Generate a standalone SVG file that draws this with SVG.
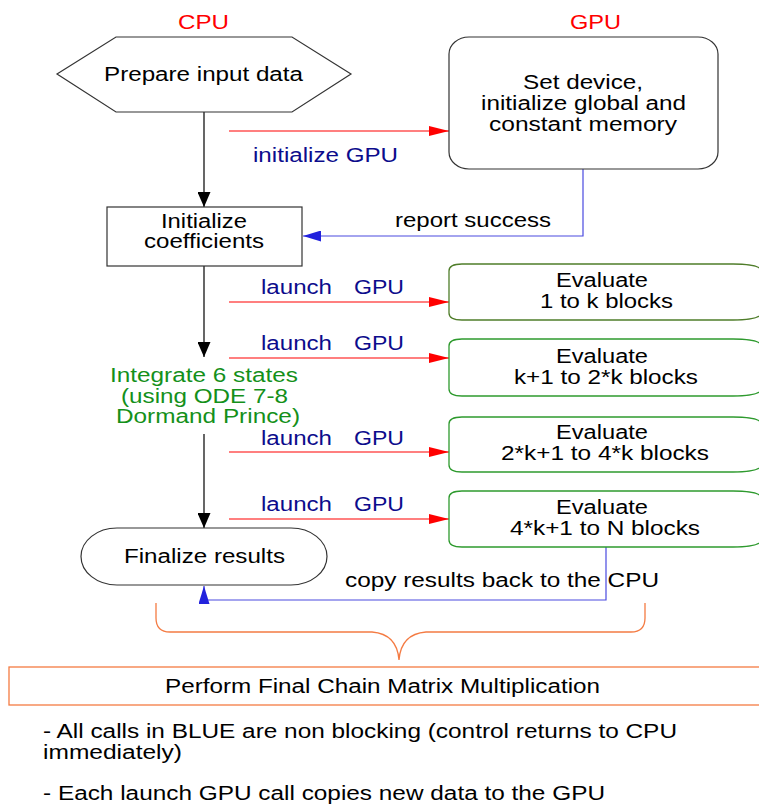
<svg xmlns="http://www.w3.org/2000/svg" width="759" height="804" viewBox="0 0 759 804">
<defs>
<style>
text{font-family:"Liberation Sans",Arial,sans-serif;font-size:19.5px;fill:#000}
.red{fill:#ff0000}
.navy{fill:#0c0c8c}
.green{fill:#14901a}
.shape{fill:#fff;stroke:#333;stroke-width:1.2}
.g1{fill:#fff;stroke:#4f7d2a;stroke-width:1.3}
.g2{fill:#fff;stroke:#2e9a2e;stroke-width:1.3}
.ra{fill:none;stroke:#ff0000;stroke-width:1.2;marker-end:url(#mr)}
.ka{fill:none;stroke:#000;stroke-width:1.2}
.ba{fill:none;stroke:#4a4ae0;stroke-width:1.2;marker-end:url(#mb)}
.br{fill:none;stroke:#f47b43;stroke-width:1.3}
</style>
<marker id="mr" markerUnits="userSpaceOnUse" markerWidth="20" markerHeight="10" refX="20" refY="5" orient="auto"><path d="M0,0 L20,5 L0,10 z" fill="#ff0000"/></marker>
<marker id="mk" markerUnits="userSpaceOnUse" markerWidth="15" markerHeight="13" refX="15" refY="6.5" orient="auto"><path d="M0,0 L15,6.5 L0,13 z" fill="#000"/></marker>
<marker id="mb" markerUnits="userSpaceOnUse" markerWidth="18" markerHeight="11" refX="18" refY="5.5" orient="auto"><path d="M0,0 L18,5.5 L0,11 z" fill="#2222dd"/></marker>
</defs>
<rect width="759" height="804" fill="#fff"/>

<text class="red" x="178" y="29" textLength="51" lengthAdjust="spacingAndGlyphs">CPU</text>
<text class="red" x="570" y="29" textLength="51" lengthAdjust="spacingAndGlyphs">GPU</text>

<g id="connectors">
<path class="ka" d="M204,112 L204,207" marker-end="url(#mk)"/>
<path class="ka" d="M204,266 L204,357" marker-end="url(#mk)"/>
<path class="ka" d="M204,434 L204,528" marker-end="url(#mk)"/>
<path class="ra" d="M229,131 L449,131"/>
<path class="ra" d="M229,302 L449,302"/>
<path class="ra" d="M229,358 L449,358"/>
<path class="ra" d="M229,452 L449,452"/>
<path class="ra" d="M229,519 L449,519"/>
<path class="ba" d="M583,169 L583,236 L303,236"/>
<path class="ba" d="M606,547 L606,600 L204,600 L204,586"/>
<text class="navy" x="253" y="162" textLength="145" lengthAdjust="spacingAndGlyphs">initialize GPU</text>
<text x="395" y="227" textLength="156" lengthAdjust="spacingAndGlyphs">report success</text>
<text class="navy" x="261" y="294" textLength="71" lengthAdjust="spacingAndGlyphs">launch</text>
<text class="navy" x="354" y="294" textLength="50" lengthAdjust="spacingAndGlyphs">GPU</text>
<text class="navy" x="261" y="350" textLength="71" lengthAdjust="spacingAndGlyphs">launch</text>
<text class="navy" x="354" y="350" textLength="50" lengthAdjust="spacingAndGlyphs">GPU</text>
<text class="navy" x="261" y="445" textLength="71" lengthAdjust="spacingAndGlyphs">launch</text>
<text class="navy" x="354" y="445" textLength="50" lengthAdjust="spacingAndGlyphs">GPU</text>
<text class="navy" x="261" y="511" textLength="71" lengthAdjust="spacingAndGlyphs">launch</text>
<text class="navy" x="354" y="511" textLength="50" lengthAdjust="spacingAndGlyphs">GPU</text>
<text x="345" y="587" textLength="314" lengthAdjust="spacingAndGlyphs">copy results back to the CPU</text>
</g>

<g id="prepare">
<polygon class="shape" points="57,74 116,37 292,37 351,74 292,112 116,112"/>
<text x="104" y="81" textLength="199" lengthAdjust="spacingAndGlyphs">Prepare input data</text>
</g>

<g id="gpu-init">
<rect class="shape" x="449" y="37" width="269" height="132" rx="20" ry="17"/>
<text x="523" y="89" textLength="120" lengthAdjust="spacingAndGlyphs">Set device,</text>
<text x="481" y="110" textLength="205" lengthAdjust="spacingAndGlyphs">initialize global and</text>
<text x="489" y="131" textLength="188" lengthAdjust="spacingAndGlyphs">constant memory</text>
</g>

<g id="init-coeff">
<rect class="shape" x="107" y="207" width="195" height="59"/>
<text x="161" y="228" textLength="86" lengthAdjust="spacingAndGlyphs">Initialize</text>
<text x="144" y="248" textLength="120" lengthAdjust="spacingAndGlyphs">coefficients</text>
</g>

<g id="eval1">
<path class="g1" d="M462,264 L733,264 Q762,264 762,272 L762,312 Q762,320 733,320 L462,320 Q449,320 449,313 L449,271 Q449,264 462,264 Z"/>
<text x="556" y="287" textLength="92" lengthAdjust="spacingAndGlyphs">Evaluate</text>
<text x="540" y="308" textLength="133" lengthAdjust="spacingAndGlyphs">1 to k blocks</text>
</g>

<g id="eval2">
<path class="g2" d="M462,339 L733,339 Q762,339 762,347 L762,388 Q762,396 733,396 L462,396 Q449,396 449,389 L449,346 Q449,339 462,339 Z"/>
<text x="556" y="363" textLength="92" lengthAdjust="spacingAndGlyphs">Evaluate</text>
<text x="514" y="384" textLength="184" lengthAdjust="spacingAndGlyphs">k+1 to 2*k blocks</text>
</g>

<g id="integrate">
<text class="green" x="110" y="382" textLength="188" lengthAdjust="spacingAndGlyphs">Integrate 6 states</text>
<text class="green" x="121" y="403" textLength="167" lengthAdjust="spacingAndGlyphs">(using ODE 7-8</text>
<text class="green" x="116" y="423" textLength="184" lengthAdjust="spacingAndGlyphs">Dormand Prince)</text>
</g>

<g id="eval3">
<path class="g2" d="M462,417 L733,417 Q762,417 762,425 L762,464 Q762,472 733,472 L462,472 Q449,472 449,465 L449,424 Q449,417 462,417 Z"/>
<text x="556" y="439" textLength="92" lengthAdjust="spacingAndGlyphs">Evaluate</text>
<text x="501" y="460" textLength="208" lengthAdjust="spacingAndGlyphs">2*k+1 to 4*k blocks</text>
</g>

<g id="eval4">
<path class="g2" d="M462,491 L733,491 Q762,491 762,499 L762,539 Q762,547 733,547 L462,547 Q449,547 449,540 L449,498 Q449,491 462,491 Z"/>
<text x="556" y="514" textLength="92" lengthAdjust="spacingAndGlyphs">Evaluate</text>
<text x="510" y="535" textLength="190" lengthAdjust="spacingAndGlyphs">4*k+1 to N blocks</text>
</g>

<g id="finalize">
<rect class="shape" x="81" y="528" width="246" height="57" rx="36" ry="28.5"/>
<text x="124" y="563" textLength="161" lengthAdjust="spacingAndGlyphs">Finalize results</text>
</g>

<g id="brace">
<path class="br" d="M156,603 L156,618 Q156,632 170,632 L372,632 Q397,634 399,660 Q401,634 426,632 L631,632 Q645,632 645,618 L645,603"/>
</g>

<g id="final-mult">
<rect x="9" y="667" width="770" height="38" fill="#fff" stroke="#f47b43" stroke-width="1.3"/>
<text x="165" y="693" textLength="435" lengthAdjust="spacingAndGlyphs">Perform Final Chain Matrix Multiplication</text>
</g>

<g id="notes">
<text x="43" y="738" textLength="634" lengthAdjust="spacingAndGlyphs">- All calls in BLUE are non blocking (control returns to CPU</text>
<text x="43" y="759" textLength="139" lengthAdjust="spacingAndGlyphs">immediately)</text>
<text x="43" y="800" textLength="562" lengthAdjust="spacingAndGlyphs">- Each launch GPU call copies new data to the GPU</text>
</g>
</svg>
